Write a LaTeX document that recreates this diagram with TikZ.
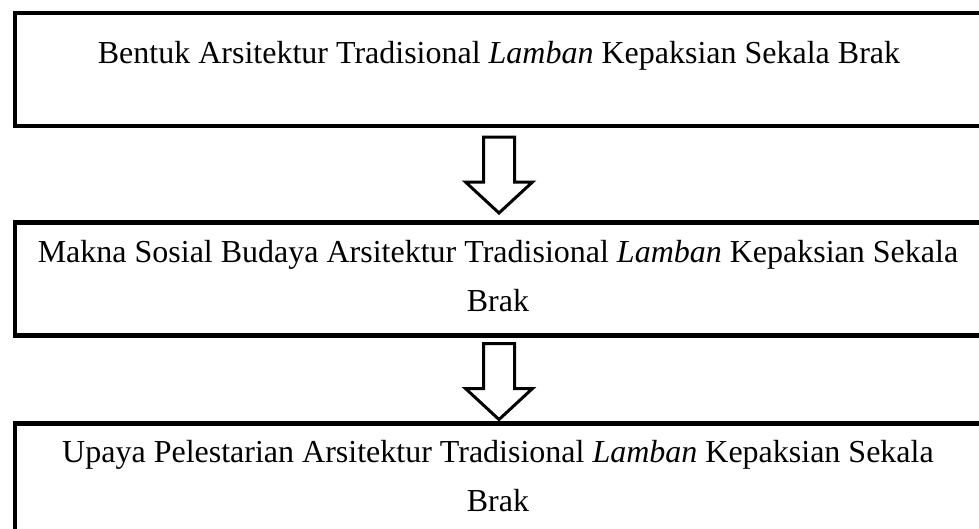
\documentclass[tikz,border=0pt]{standalone}
\usepackage{fontspec}
\setmainfont{Liberation Serif}
\begin{document}
\begin{tikzpicture}[x=1pt,y=-1pt,
  stagebox/.style={draw=black, line width=4.5pt, fill=white},
  stagetext/.style={font=\fontsize{32}{49}\selectfont, align=center, inner sep=0pt, anchor=base},
  arrowline/.style={draw=black, line width=3pt, fill=white, line join=miter},
  downarrow/.pic={
    \draw[arrowline] (-15.5,0) -- (15.5,0) -- (15.5,45) -- (33.5,45)
      -- (0,76) -- (-33.5,45) -- (-15.5,45) -- cycle;
  }]
  \clip (0,0) rectangle (979,528);
  \fill[white] (0,0) rectangle (979,528);

  % the three stages, running on past the right edge
  \node[stagebox, minimum width=987.5pt, minimum height=113pt, anchor=north west, inner sep=0pt]
    (b1) at (12.5,10.5) {};
  \node[stagebox, minimum width=987.5pt, minimum height=113pt, anchor=north west, inner sep=0pt]
    (b2) at (12.5,220) {};
  \node[stagebox, minimum width=987.5pt, minimum height=140pt, anchor=north west, inner sep=0pt]
    (b3) at (12.5,421) {};

  % text nodes are placed by the baseline of their last line
  \node[stagetext] (t1) at (499,63)
    {Bentuk Arsitektur Tradisional \textit{Lamban} Kepaksian Sekala Brak};
  \node[stagetext] (t2) at (498,311)
    {Makna Sosial Budaya Arsitektur Tradisional \textit{Lamban} Kepaksian Sekala\\Brak};
  \node[stagetext] (t3) at (498,511)
    {Upaya Pelestarian Arsitektur Tradisional \textit{Lamban} Kepaksian Sekala\\Brak};

  % block arrows between the stages
  \path (b1.south -| t1.base) ++(0,9) coordinate (a1);
  \path (b2.south -| t1.base) ++(0,6) coordinate (a2);
  \pic at (a1) {downarrow};
  \pic at (a2) {downarrow};
\end{tikzpicture}
\end{document}
